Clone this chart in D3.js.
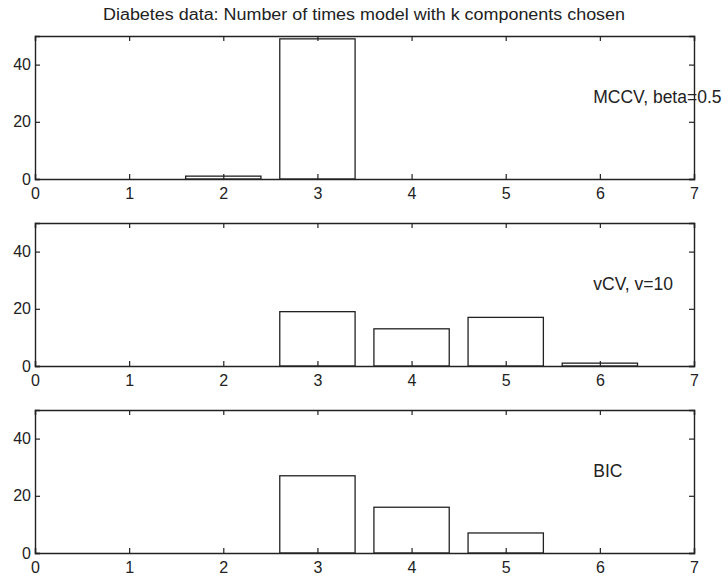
<!DOCTYPE html>
<html>
<head>
<meta charset="utf-8">
<script src="https://cdn.jsdelivr.net/npm/d3@7"></script>
<style>
  body { margin: 0; background: #fff; }
  text { font-family: "Liberation Sans", Arial, sans-serif; fill: #222; }
</style>
</head>
<body>
<div id="chart"></div>
<script>
// number of components k, and how often each was chosen
var ks = [1, 2, 3, 4, 5, 6];
var mccv = [0, 1, 49, 0, 0, 0];
var vcv = [0, 0, 19, 13, 17, 1];
var bic = [0, 0, 27, 16, 7, 0];

var xTicks = [0, 1, 2, 3, 4, 5, 6, 7];
var yTicks = [0, 20, 40];
var labels = ["MCCV, beta=0.5", "vCV, v=10", "BIC"];
var series = [mccv, vcv, bic];

var width = 728, height = 580;
var left = 35, right = 694;
var panelTops = [36, 223, 410];
var panelH = 143;
var ink = "#222";

var svg = d3.select("#chart")
    .append("svg")
    .attr("width", width)
    .attr("height", height);

svg.append("text")
    .attr("x", 364)
    .attr("y", 20)
    .attr("text-anchor", "middle")
    .attr("font-size", "16px")
    .attr("textLength", 522)
    .attr("lengthAdjust", "spacingAndGlyphs")
    .text("Diabetes data: Number of times model with k components chosen");

var x = d3.scaleLinear().domain([0, 7]).range([left, right]);

series.forEach(function(vals, p) {
    var top = panelTops[p];
    var y = d3.scaleLinear().domain([0, 50]).range([top + panelH, top]);
    var g = svg.append("g");

    // bars
    g.selectAll("rect")
        .data(ks)
        .enter()
        .append("rect")
        .attr("x", function(k) { return x(k - 0.4); })
        .attr("width", function() { return x(0.8) - x(0); })
        .attr("y", function(k, i) { return y(vals[i]); })
        .attr("height", function(k, i) { return y(0) - y(vals[i]); })
        .attr("fill", "none")
        .attr("stroke", ink)
        .attr("stroke-width", 1.3);

    // axes, ticks pointing inward like matlab
    var bottomAx = g.append("g")
        .attr("transform", "translate(0," + y(0) + ")")
        .call(d3.axisBottom(x).tickValues(xTicks).tickSize(-5).tickPadding(6).tickFormat(d3.format("d")));
    var topAx = g.append("g")
        .attr("transform", "translate(0," + y(50) + ")")
        .call(d3.axisTop(x).tickValues(xTicks).tickSize(-5).tickFormat(""));
    var leftAx = g.append("g")
        .attr("transform", "translate(" + left + ",0)")
        .call(d3.axisLeft(y).tickValues(yTicks).tickSize(-5).tickPadding(4).tickFormat(d3.format("d")));
    var rightAx = g.append("g")
        .attr("transform", "translate(" + right + ",0)")
        .call(d3.axisRight(y).tickValues(yTicks).tickSize(-5).tickFormat(""));

    [bottomAx, topAx, leftAx, rightAx].forEach(function(a) {
        a.select(".domain").attr("stroke", ink).attr("stroke-width", 1.4);
        a.selectAll(".tick line").attr("stroke", ink).attr("stroke-width", 1.2);
        a.selectAll(".tick text")
            .attr("font-size", "16px")
            .attr("font-family", "'Liberation Sans', Arial, sans-serif")
            .attr("fill", ink);
    });
    bottomAx.selectAll(".tick text").attr("dy", "0.85em");

    g.append("text")
        .attr("x", x(5.93))
        .attr("y", y(26.5))
        .attr("font-size", "17.5px")
        .text(labels[p]);
});
</script>
</body>
</html>
